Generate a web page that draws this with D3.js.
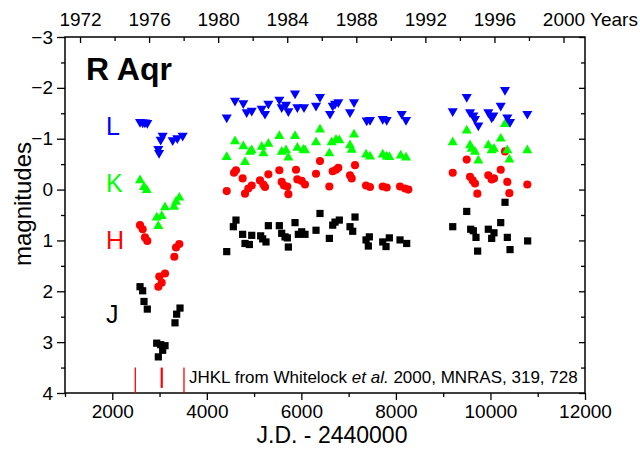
<!DOCTYPE html>
<html><head><meta charset="utf-8">
<script src="https://cdn.jsdelivr.net/npm/d3@7"></script>
<style>
body{margin:0;background:#fff}
svg{display:block}
text{font-family:"Liberation Sans",Arial,Helvetica,sans-serif}
</style>
</head><body>
<svg id="chart" width="640" height="456"></svg>
<script>
// ---- data: [J.D. - 2440000, magnitude] ----
const bandL = [
 [2587,-1.33],[2643,-1.32],[2690,-1.32],[2741,-1.31],
 [2974,-0.80],[2990,-0.72],[3024,-0.98],[3066,-1.06],[3278,-0.97],[3376,-1.01],[3489,-1.06],
 [4421,-1.42],[4596,-1.75],[4772,-1.70],[4843,-1.52],[4950,-1.55],[5161,-1.59],[5231,-1.49],[5302,-1.69],
 [5534,-1.77],[5584,-1.62],[5675,-1.67],[5725,-1.54],[5866,-1.89],[5915,-1.62],[6056,-1.62],[6310,-1.65],
 [6394,-1.82],[6606,-1.49],[6663,-1.65],[6712,-1.69],[6782,-1.72],[7029,-1.52],[7114,-1.72],[7382,-1.36],
 [7452,-1.37],[7721,-1.39],[7805,-1.37],[8123,-1.49],[8214,-1.37],
 [9202,-1.54],[9498,-1.82],[9568,-1.52],[9638,-1.46],[9673,-1.39],[9744,-1.26],[9955,-1.52],[10026,-1.42],
 [10061,-1.46],[10217,-1.65],[10308,-1.96],[10357,-1.42],[10414,-1.33],[10780,-1.49]
];
const bandK = [
 [2587,-0.18],[2671,-0.05],[2728,0.01],[2940,0.55],[2974,0.72],[3045,0.52],[3116,0.35],[3306,0.34],[3348,0.24],[3418,0.16],
 [4421,-0.64],[4596,-0.95],[4772,-0.85],[4808,-0.54],[4914,-0.74],[4950,-0.77],[5161,-0.84],[5196,-0.71],[5302,-0.90],
 [5534,-1.05],[5584,-0.74],[5675,-0.77],[5725,-0.63],[5866,-1.05],[5915,-0.82],[6042,-0.78],[6077,-0.77],[6310,-0.93],
 [6394,-1.18],[6592,-0.71],[6642,-0.93],[6733,-0.98],[6803,-0.97],[7029,-0.87],[7065,-0.78],[7114,-1.08],[7368,-0.69],
 [7452,-0.65],[7721,-0.69],[7805,-0.65],[7861,-0.64],[8102,-0.67],[8214,-0.63],
 [9202,-0.93],[9498,-1.16],[9568,-0.87],[9603,-0.80],[9673,-0.74],[9744,-0.57],[9955,-0.87],[10026,-0.77],
 [10075,-0.80],[10217,-1.00],[10308,-1.29],[10357,-0.77],[10400,-0.59],[10780,-0.77]
];
const bandH = [
 [2587,0.70],[2643,0.78],[2692,0.94],[2741,1.01],[2974,1.91],[2995,1.71],[3045,1.83],[3116,1.65],[3313,1.32],[3348,1.14],[3418,1.07],
 [4421,0.03],[4575,-0.33],[4617,-0.38],[4758,-0.22],[4808,0.08],[4878,-0.02],[4950,-0.08],[5125,-0.18],[5196,-0.10],
 [5231,-0.05],[5302,-0.30],[5534,-0.38],[5584,-0.15],[5633,-0.08],[5703,-0.06],[5725,0.09],[5887,-0.39],[5915,-0.20],
 [6007,-0.17],[6077,-0.10],[6310,-0.31],[6394,-0.56],[6592,-0.06],[6663,-0.36],[6733,-0.39],[6782,-0.43],[7029,-0.28],
 [7065,-0.22],[7135,-0.48],[7368,-0.08],[7452,-0.05],[7721,-0.06],[7805,-0.04],[8087,-0.06],[8193,-0.02],[8263,0.00],
 [9202,-0.33],[9498,-0.59],[9568,-0.25],[9624,-0.18],[9673,-0.12],[9723,0.08],[9955,-0.28],[10026,-0.20],
 [10075,-0.22],[10217,-0.39],[10308,-0.75],[10357,-0.15],[10400,0.07],[10780,-0.10]
];
const bandJ = [
 [2587,1.91],[2643,1.99],[2671,2.20],[2741,2.35],[2940,3.02],[2974,3.29],[3024,3.05],[3066,3.16],[3116,3.07],
 [3327,2.62],[3362,2.45],[3433,2.33],
 [4421,1.22],[4561,0.73],[4617,0.60],[4758,0.88],[4808,1.06],[4900,1.08],[4950,0.90],[5139,0.91],[5182,0.97],
 [5252,1.03],[5302,0.71],[5534,0.71],[5584,0.86],[5654,0.93],[5703,0.95],[5725,1.13],[5866,0.65],[5936,0.88],
 [6007,0.83],[6077,0.88],[6310,0.80],[6394,0.47],[6592,0.96],[6663,0.70],[6712,0.64],[6803,0.60],[7029,0.73],
 [7086,0.82],[7135,0.54],[7368,0.99],[7438,0.93],[7417,1.11],[7721,1.03],[7791,1.12],[7861,0.95],[8087,0.99],[8228,1.06],
 [9202,0.73],[9498,0.43],[9582,0.78],[9638,0.81],[9694,0.94],[9729,1.21],[9955,0.78],[10026,0.96],[10075,0.85],
 [10217,0.65],[10308,0.25],[10357,0.94],[10414,1.18],[10787,1.01]
];
const markerJD = [2487, 3046, 3517];
const xTicksMajor = [2000,4000,6000,8000,10000,12000];
const xTicksMinor = [1000,3000,5000,7000,9000,11000];
const yTicksMajor = [-3,-2,-1,0,1,2,3,4];
const yTicksMinor = [-2.5,-1.5,-0.5,0.5,1.5,2.5,3.5];
const yearTicks = d3.range(1972, 2001, 2);
const yearLabels = [1972,1976,1980,1984,1988,1992,1996,2000];

// ---- layout ----
const svg = d3.select("#chart");
const L = 65, R = 585, T = 37, B = 393;
const x = d3.scaleLinear().domain([1000, 12000]).range([L, R]);
const y = d3.scaleLinear().domain([-3, 4]).range([T, B]);
const jdToYear = jd => 1970 + (jd - 587.5) / 365.25;
const xYear = d3.scaleLinear().domain([jdToYear(1000), jdToYear(12000)]).range([L, R]);
const FS = 19;

// bottom axis
const gb = svg.append("g").attr("transform", `translate(0,${B})`);
gb.call(d3.axisBottom(x).tickValues(xTicksMajor).tickSize(7).tickPadding(5).tickFormat(d3.format("d")));
gb.append("g").call(d3.axisBottom(x).tickValues(xTicksMinor).tickSize(4).tickFormat(""));
// left axis
const gl = svg.append("g").attr("transform", `translate(${L},0)`);
gl.call(d3.axisLeft(y).tickValues(yTicksMajor).tickSize(8).tickPadding(4).tickFormat(d3.format("d")));
gl.append("g").call(d3.axisLeft(y).tickValues(yTicksMinor).tickSize(4).tickFormat(""));
// right axis (inner ticks)
const gr = svg.append("g").attr("transform", `translate(${R},0)`);
gr.call(d3.axisRight(y).tickValues(yTicksMajor).tickSize(-6).tickFormat(""));
gr.append("g").call(d3.axisRight(y).tickValues(yTicksMinor).tickSize(-4).tickFormat(""));
// top axis: years (inner ticks)
const gt = svg.append("g").attr("transform", `translate(0,${T})`);
gt.call(d3.axisTop(xYear).tickValues(yearTicks).tickSize(-6).tickPadding(11)
  .tickFormat(d => yearLabels.includes(d) ? String(d) : ""));
gt.selectAll(".tick line").filter(d => !yearLabels.includes(d)).attr("y2", 4);

svg.selectAll(".domain").remove();
svg.selectAll(".tick line").attr("stroke", "#000").attr("stroke-width", 1.3);
svg.selectAll(".tick text").attr("font-size", FS).attr("fill", "#000")
   .style("font-family", '"Liberation Sans",Arial,sans-serif');

// frame
svg.append("rect").attr("x", L).attr("y", T).attr("width", R - L).attr("height", B - T)
   .attr("fill", "none").attr("stroke", "#000").attr("stroke-width", 1.5);

svg.append("text").attr("x", 590).attr("y", 26).attr("font-size", FS).text("Years");

// axis titles
svg.append("text").attr("x", 332).attr("y", 443).attr("text-anchor", "middle")
   .attr("font-size", 23).text("J.D. - 2440000");
svg.append("text").attr("transform", "translate(31,204) rotate(-90)").attr("text-anchor", "middle")
   .attr("font-size", 24).text("magnitudes");

// title
svg.append("text").attr("x", 86).attr("y", 80).attr("font-size", 32).attr("font-weight", "bold").text("R Aqr");

// band labels
const bandLabels = [
  {t:"L", c:"#0000ff", m:-1.25},
  {t:"K", c:"#00ff00", m:-0.13},
  {t:"H", c:"#ff0000", m:1.0},
  {t:"J", c:"#000000", m:2.45}
];
svg.selectAll("text.band").data(bandLabels).join("text").attr("class", "band")
  .attr("x", 106).attr("y", d => y(d.m) + 9).attr("font-size", 25).attr("fill", d => d.c).text(d => d.t);

// red markers
svg.selectAll("line.mk").data(markerJD).join("line").attr("class", "mk")
  .attr("x1", d => x(d)).attr("x2", d => x(d))
  .attr("y1", y(3.5)).attr("y2", (d, i) => i === 1 ? y(3.9) : y(4))
  .attr("stroke", "#ff0000").attr("stroke-width", (d, i) => i === 1 ? 2.2 : 1.3);

// citation
const cite = svg.append("text").attr("x", 189).attr("y", 383).attr("font-size", 17);
cite.append("tspan").text("JHKL from Whitelock ");
cite.append("tspan").attr("font-style", "italic").text("et al.");
cite.append("tspan").text(" 2000, MNRAS, 319, 728");

// data points
function plot(data, type, size, color, rot) {
  svg.append("g").selectAll("path").data(data).join("path")
    .attr("d", d3.symbol().type(type).size(size))
    .attr("transform", d => `translate(${x(d[0])},${y(d[1])})` + (rot ? " rotate(180)" : ""))
    .attr("fill", color);
}
plot(bandJ, d3.symbolSquare, 52, "#000000", false);
plot(bandH, d3.symbolCircle, 52, "#ff0000", false);
plot(bandK, d3.symbolTriangle, 44, "#00ff00", false);
plot(bandL, d3.symbolTriangle, 44, "#0000ff", true);
</script>
</body></html>
